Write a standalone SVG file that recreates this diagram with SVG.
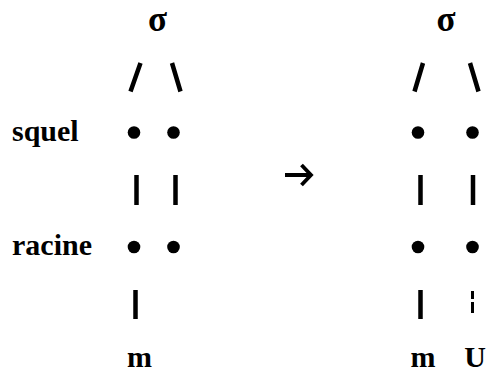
<svg xmlns="http://www.w3.org/2000/svg" width="486" height="372" viewBox="0 0 486 372">
<style>
.t{font-family:"Liberation Serif","Times New Roman",serif;font-weight:bold;font-size:30px;fill:#000}
.g{font-size:35px}
.c{stroke:#000;stroke-width:4.5;fill:none;stroke-linecap:butt}
.d{fill:#000}
</style>
<rect width="486" height="372" fill="#fff"/>
<g id="labels">
<text class="t" x="12" y="141">squel</text>
<text class="t" x="12" y="255">racine</text>
</g>
<g id="left-tree">
<g id="L-sigma"><text class="t g" x="157.5" y="30.5" text-anchor="middle">σ</text></g>
<g id="L-s1"><circle class="d" cx="134" cy="132.5" r="6.3"/></g>
<g id="L-s2"><circle class="d" cx="173.5" cy="132.5" r="6.3"/></g>
<g id="L-r1"><circle class="d" cx="134" cy="247" r="6.3"/></g>
<g id="L-r2"><circle class="d" cx="173.5" cy="247" r="6.3"/></g>
<g id="L-m"><text class="t" x="139.5" y="367" text-anchor="middle">m</text></g>
</g>
<g id="right-tree">
<g id="R-sigma"><text class="t g" x="446" y="30.5" text-anchor="middle">σ</text></g>
<g id="R-s1"><circle class="d" cx="418" cy="132.5" r="6.3"/></g>
<g id="R-s2"><circle class="d" cx="472.5" cy="132.5" r="6.3"/></g>
<g id="R-r1"><circle class="d" cx="418" cy="247" r="6.3"/></g>
<g id="R-r2"><circle class="d" cx="472.5" cy="247" r="6.3"/></g>
<g id="R-m"><text class="t" x="423" y="367" text-anchor="middle">m</text></g>
<g id="R-U"><text class="t" x="475" y="367" text-anchor="middle">U</text></g>
</g>
<g id="connectors">
<path class="c" d="M140.5 63 L130.5 91.5 M172 63 L180.5 91.5"/>
<path class="c" d="M423 63 L414.5 91.5 M470 63 L478.5 91.5"/>
<path class="c" d="M136.5 175 V205 M175.5 175 V205"/>
<path class="c" d="M420.5 175 V205 M473 175 V205"/>
<path class="c" d="M135.5 290 V319 M420.5 290 V319"/>
<path class="c" d="M472.5 291 V299 M472.5 302 V313" style="stroke-width:3"/>
<path class="c" d="M285 175 H309 M301.5 165 L311 175 L301.5 185" style="stroke-width:3.8"/>
</g>
</svg>
